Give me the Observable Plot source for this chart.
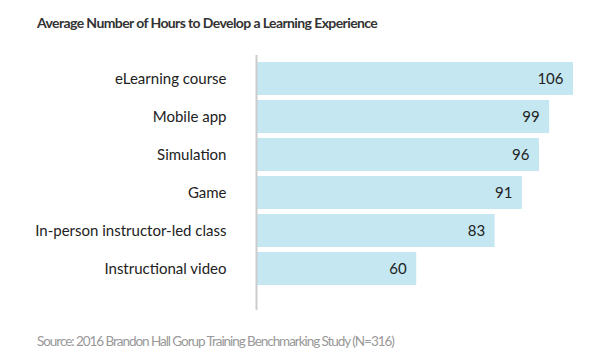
<!DOCTYPE html>
<html>
<head>
<meta charset="utf-8">
<script src="https://cdn.jsdelivr.net/npm/d3@7"></script>
<script src="https://cdn.jsdelivr.net/npm/@observablehq/plot@0.6"></script>
<style>
  html, body { margin: 0; padding: 0; background: #fff; }
  body { width: 600px; height: 362px; font-family: Lato, sans-serif; position: relative; overflow: hidden; }
  #title { position: absolute; left: 37px; top: 14px; font-size: 14px; letter-spacing: -0.6px; font-weight: bold; color: #333; line-height: 18px; white-space: nowrap; }
  #chart { position: absolute; left: 0; top: 45px; }
  #caption { position: absolute; left: 37px; top: 332px; font-size: 13.5px; letter-spacing: -1.05px; color: #999; line-height: 18px; white-space: nowrap; }
</style>
</head>
<body>
<div id="title">Average Number of Hours to Develop a Learning Experience</div>
<div id="chart"></div>
<div id="caption">Source: 2016 Brandon Hall Gorup Training Benchmarking Study (N=316)</div>
<script>
const categories = ["eLearning course", "Mobile app", "Simulation", "Game", "In-person instructor-led class", "Instructional video"];
const hours = [106, 99, 96, 91, 83, 60];
const xDomain = [13, 106];

const data = categories.map((c, i) => ({type: c, hours: hours[i]}));

const chart = Plot.plot({
  width: 600,
  height: 265,
  marginTop: 10,
  marginBottom: 0,
  marginLeft: 256,
  marginRight: 27,
  style: {fontFamily: "Lato, sans-serif", fontSize: "15px", color: "#222", background: "transparent"},
  x: {domain: xDomain, axis: null},
  y: {domain: categories, paddingInner: 0.12, paddingOuter: 0.33, align: 0.23, label: null, axis: null},
  marks: [
    Plot.barX(data, {x: "hours", y: "type", fill: "#c4e7f1", clip: true}),
    Plot.text(data, {x: "hours", y: "type", text: d => String(d.hours), textAnchor: "end", dx: -10, fill: "#222", fontSize: 15}),
    Plot.ruleX([xDomain[0]], {stroke: "#ccc", strokeWidth: 2}),
    Plot.axisY({tickSize: 0, tickPadding: 30, fontSize: 15, fill: "#222", label: null})
  ]
});
document.getElementById("chart").appendChild(chart);
</script>
</body>
</html>
